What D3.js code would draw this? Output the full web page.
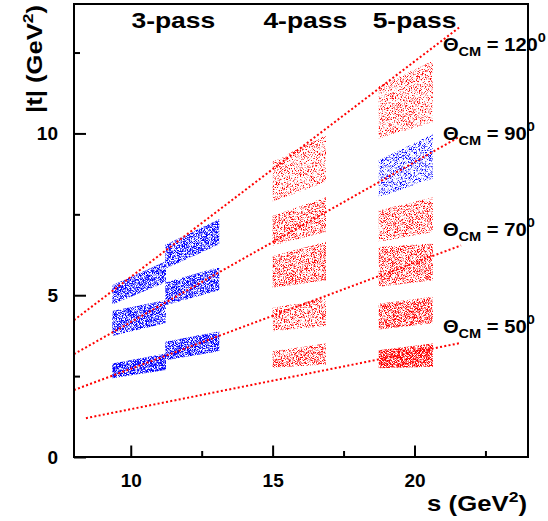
<!DOCTYPE html>
<html>
<head>
<meta charset="utf-8">
<script src="https://cdn.jsdelivr.net/npm/d3@7"></script>
<style>
  body { margin: 0; background: #fff; }
  text { font-family: "Liberation Sans", Arial, Helvetica, sans-serif; font-weight: bold; fill: #000; }
</style>
</head>
<body>
<svg id="chart" width="548" height="521"></svg>
<script>
// Axis ranges and ticks
const sDomain = [8, 24];
const tDomain = [0, 14];
const sMajorTicks = [10, 15, 20];
const sMinorTicks = [12.5, 17.5, 22.5];
const tMajorTicks = [0, 5, 10];
const tMinorTicks = [2.5, 7.5, 12.5];

// Beam-energy groups
const passLabels = ["3-pass", "4-pass", "5-pass"];
const passLabelS = [11.5, 16.15, 20.0];
const passLabelT = 13.26;

// Fixed-angle kinematic lines |t|(s)
const angleLabels = ["120", "90", "70", "50"];
const lineS0 = [8.0, 8.0, 8.0, 8.42];
const lineT0 = [4.23, 3.18, 2.07, 1.20];
const lineS1 = [21.57, 21.55, 21.64, 21.6];
const lineT1 = [13.27, 9.88, 6.54, 3.52];
const angleLabelS = 21.0;
const angleLabelT = [12.54, 9.80, 6.82, 3.82];

// Acceptance bands: s range, |t| low/high at each s edge, group, relative yield
const bandS0  = [9.35, 9.35, 9.35, 11.22, 11.22, 11.22, 15.0, 15.0, 15.0, 15.0, 15.0, 18.74, 18.74, 18.74, 18.74, 18.74, 18.74];
const bandS1  = [11.24, 11.24, 11.24, 13.12, 13.12, 13.12, 16.88, 16.88, 16.88, 16.88, 16.88, 20.65, 20.65, 20.65, 20.65, 20.65, 20.65];
const bandLo0 = [4.71, 3.74, 2.43, 5.82, 4.69, 2.99, 7.90, 6.54, 5.23, 3.89, 2.76, 9.84, 8.03, 6.65, 5.26, 3.94, 2.74];
const bandHi0 = [5.31, 4.51, 2.89, 6.56, 5.39, 3.56, 9.14, 7.45, 6.21, 4.61, 3.27, 11.45, 9.17, 7.62, 6.49, 4.74, 3.30];
const bandLo1 = [5.40, 4.14, 2.69, 6.57, 5.15, 3.27, 8.50, 6.95, 5.46, 4.05, 2.86, 10.35, 8.60, 6.95, 5.46, 4.13, 2.79];
const bandHi1 = [6.05, 4.85, 3.20, 7.35, 5.87, 3.89, 9.94, 8.03, 6.65, 4.90, 3.51, 12.25, 9.99, 8.03, 6.60, 4.95, 3.51];
const bandGroup = [0, 0, 0, 0, 0, 0, 1, 1, 1, 1, 1, 1, 0, 1, 1, 1, 1];
const bandYield = [0.62, 0.62, 0.7, 0.6, 0.6, 0.66, 0.28, 0.36, 0.42, 0.34, 0.42, 0.28, 0.32, 0.36, 0.42, 0.5, 0.68];

const groupColour = ["#0000ff", "#ff0000"];

(function draw() {
  const svg = d3.select("#chart");
  const plot = { left: 74, right: 528, top: 4, bottom: 457 };

  const x = d3.scaleLinear().domain(sDomain).range([plot.left, plot.right]);
  const y = d3.scaleLinear().domain(tDomain).range([plot.bottom, plot.top]);

  const defs = svg.append("defs");

  // Speckle texture: fine pixel noise, thresholded by yield, clipped to each band
  bandYield.forEach((d, i) => {
    const thr = 0.5 + 0.3 * (0.5 - d);
    const f = defs.append("filter")
      .attr("id", "speckle" + i)
      .attr("color-interpolation-filters", "sRGB")
      .attr("x", "0").attr("y", "0").attr("width", "1").attr("height", "1");
    f.append("feTurbulence")
      .attr("type", "fractalNoise")
      .attr("baseFrequency", 1.37)
      .attr("numOctaves", 1)
      .attr("seed", 3 + i * 7)
      .attr("result", "noise");
    f.append("feColorMatrix")
      .attr("in", "noise")
      .attr("type", "matrix")
      .attr("values", "0 0 0 0 0  0 0 0 0 0  0 0 0 0 0  1 0 0 0 0")
      .attr("result", "na");
    const ct = f.append("feComponentTransfer").attr("in", "na").attr("result", "mask");
    ct.append("feFuncA").attr("type", "linear").attr("slope", 5).attr("intercept", -5 * thr + 0.35);
    f.append("feComposite")
      .attr("in", "SourceGraphic").attr("in2", "mask").attr("operator", "in");
  });

  // Bands
  const bandIdx = d3.range(bandS0.length);
  svg.append("g").selectAll("polygon")
    .data(bandIdx)
    .join("polygon")
    .attr("points", i => [
        [x(bandS0[i]), y(bandLo0[i])],
        [x(bandS0[i]), y(bandHi0[i])],
        [x(bandS1[i]), y(bandHi1[i])],
        [x(bandS1[i]), y(bandLo1[i])]
      ].map(p => p.join(",")).join(" "))
    .attr("fill", i => groupColour[bandGroup[i]])
    .attr("filter", i => `url(#speckle${i})`);

  // Fixed-angle lines
  const line = d3.line().x(d => x(d[0])).y(d => y(d[1]));
  svg.append("g").selectAll("path")
    .data(angleLabels.map((_, i) => [[lineS0[i], lineT0[i]], [lineS1[i], lineT1[i]]]))
    .join("path")
    .attr("d", line)
    .attr("fill", "none")
    .attr("stroke", "#ff0000")
    .attr("stroke-width", 2)
    .attr("stroke-dasharray", "2,2.3");

  // Axes with inward ticks
  svg.append("g").attr("transform", `translate(0,${plot.bottom})`)
    .call(d3.axisBottom(x).tickValues(sMajorTicks).tickSize(-11.5).tickPadding(17).tickFormat(d3.format("d")));
  svg.append("g").attr("transform", `translate(0,${plot.bottom})`)
    .call(d3.axisBottom(x).tickValues(sMinorTicks).tickSize(-6).tickFormat(""));
  svg.append("g").attr("transform", `translate(${plot.left},0)`)
    .call(d3.axisLeft(y).tickValues(tMajorTicks).tickSize(-12).tickPadding(16).tickFormat(d3.format("d")));
  svg.append("g").attr("transform", `translate(${plot.left},0)`)
    .call(d3.axisLeft(y).tickValues(tMinorTicks).tickSize(-6).tickFormat(""));
  svg.selectAll(".domain").remove();
  svg.selectAll(".tick line").attr("stroke", "#000").attr("stroke-width", 2);
  svg.selectAll(".tick text")
    .style("font-size", "19px").style("font-weight", "bold")
    .style("font-family", "'Liberation Sans', Arial, sans-serif").attr("fill", "#000");

  // Frame
  svg.append("rect")
    .attr("x", plot.left).attr("y", plot.top)
    .attr("width", plot.right - plot.left).attr("height", plot.bottom - plot.top)
    .attr("fill", "none").attr("stroke", "#000").attr("stroke-width", 2);

  // Horizontally stretched label
  function label(px, py, rot, sx, anchor) {
    return svg.append("g")
      .attr("transform", `translate(${px},${py}) rotate(${rot}) scale(${sx},1)`)
      .append("text").attr("text-anchor", anchor);
  }

  // Axis titles
  const yt = label(42, 5, -90, 1.165, "end").style("font-size", "22px");
  yt.append("tspan").text("|t| (GeV");
  yt.append("tspan").attr("dy", -9).style("font-size", "15px").text("2");
  yt.append("tspan").attr("dy", 9).text(")");

  const xt = label(527, 511, 0, 1.17, "end").style("font-size", "22px");
  xt.append("tspan").text("s (GeV");
  xt.append("tspan").attr("dy", -9).style("font-size", "15px").text("2");
  xt.append("tspan").attr("dy", 9).text(")");

  // Pass labels
  passLabels.forEach((p, i) => {
    label(x(passLabelS[i]), y(passLabelT), 0, 1.23, "middle")
      .style("font-size", "21.5px").text(p);
  });

  // Angle labels
  angleLabels.forEach((a, i) => {
    const t = label(x(angleLabelS), y(angleLabelT[i]), 0, 1.12, "start").style("font-size", "18px");
    t.append("tspan").text("\u0398");
    t.append("tspan").attr("dy", 5).style("font-size", "13px").text("CM");
    t.append("tspan").attr("dy", -5).text(" = " + a);
    t.append("tspan").attr("dy", -9).style("font-size", "13px").text("0");
  });
})();
</script>
</body>
</html>
